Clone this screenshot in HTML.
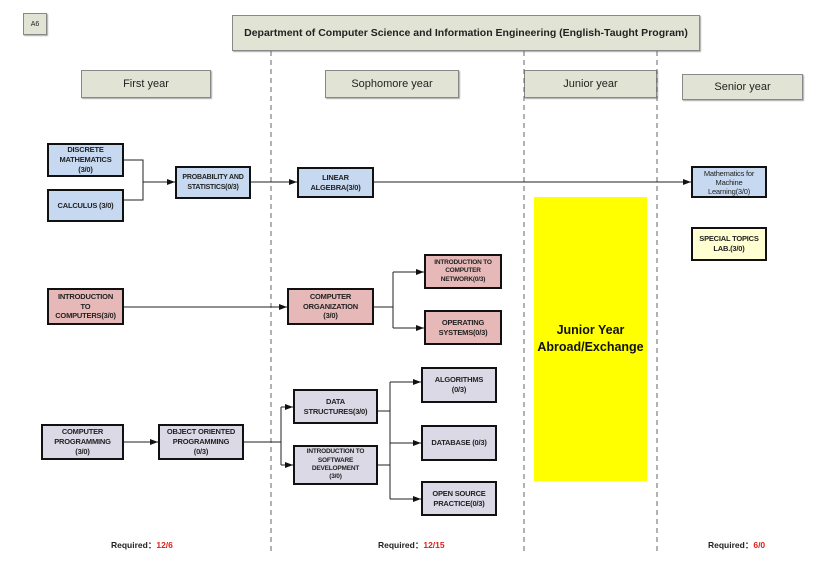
<!DOCTYPE html>
<html><head><meta charset="utf-8"><style>
body{margin:0;width:830px;height:562px;background:#fff;position:relative;overflow:hidden;font-family:"Liberation Sans",sans-serif}
.b{position:absolute;box-sizing:border-box;border:2.5px solid #111;display:flex;align-items:center;justify-content:center;text-align:center;font-size:7.5px;letter-spacing:-0.2px;font-weight:bold;line-height:1.3;color:#222;padding:0 1px}
.h{position:absolute;box-sizing:border-box;border:1px solid #888;background:#e1e4d5;display:flex;align-items:center;justify-content:center;font-size:11px;color:#222;box-shadow:1px 1px 1px #aaa}
.bl{background:#c6d9f0}.pk{background:#e6b9b8}.lv{background:#dcd9e6}
.r{position:absolute;font-size:8.5px;font-weight:bold;color:#222}.r span{color:#e0201a}
</style></head><body>
<div class="h" style="left:23px;top:13px;width:24px;height:22px;font-size:7px">A6</div>
<div class="h" style="left:232px;top:15px;width:468px;height:36px;font-weight:bold;font-size:10.5px">Department of Computer Science and Information Engineering (English-Taught Program)</div>
<div class="h" style="left:81px;top:70px;width:130px;height:28px">First year</div>
<div class="h" style="left:325px;top:70px;width:134px;height:28px">Sophomore year</div>
<div class="h" style="left:524px;top:70px;width:133px;height:28px">Junior year</div>
<div class="h" style="left:682px;top:74px;width:121px;height:26px">Senior year</div>
<svg style="position:absolute;left:0;top:0" width="830" height="562">
<defs><marker id="a" markerWidth="8" markerHeight="6" refX="8" refY="3" orient="auto" markerUnits="userSpaceOnUse"><path d="M0,0L8,3L0,6z" fill="#111"/></marker></defs>
<g stroke="#666" stroke-dasharray="5,4" stroke-width="1"><line x1="271" y1="51" x2="271" y2="552"/><line x1="524" y1="51" x2="524" y2="552"/><line x1="657" y1="51" x2="657" y2="552"/></g>
<g stroke="#222" stroke-width="1" fill="none">
<polyline points="124,160 143,160 143,200 124,200"/><line x1="143" y1="182" x2="175" y2="182" marker-end="url(#a)"/>
<line x1="251" y1="182" x2="297" y2="182" marker-end="url(#a)"/>
<line x1="374" y1="182" x2="691" y2="182" marker-end="url(#a)"/>
<line x1="124" y1="307" x2="287" y2="307" marker-end="url(#a)"/>
<line x1="374" y1="307" x2="393" y2="307"/><line x1="393" y1="272" x2="393" y2="328"/>
<line x1="393" y1="272" x2="424" y2="272" marker-end="url(#a)"/><line x1="393" y1="328" x2="424" y2="328" marker-end="url(#a)"/>
<line x1="124" y1="442" x2="158" y2="442" marker-end="url(#a)"/>
<line x1="244" y1="442" x2="281" y2="442"/><line x1="281" y1="407" x2="281" y2="465"/>
<line x1="281" y1="407" x2="293" y2="407" marker-end="url(#a)"/><line x1="281" y1="465" x2="293" y2="465" marker-end="url(#a)"/>
<line x1="378" y1="411" x2="390" y2="411"/><line x1="378" y1="465" x2="390" y2="465"/><line x1="390" y1="382" x2="390" y2="499"/>
<line x1="390" y1="382" x2="421" y2="382" marker-end="url(#a)"/><line x1="390" y1="443" x2="421" y2="443" marker-end="url(#a)"/><line x1="390" y1="499" x2="421" y2="499" marker-end="url(#a)"/>
</g></svg>
<div class="b bl" style="left:47px;top:143px;width:77px;height:34px">DISCRETE<br>MATHEMATICS<br>(3/0)</div>
<div class="b bl" style="left:47px;top:189px;width:77px;height:33px">CALCULUS (3/0)</div>
<div class="b bl" style="left:175px;top:166px;width:76px;height:33px;font-size:7px">PROBABILITY AND<br>STATISTICS(0/3)</div>
<div class="b bl" style="left:297px;top:167px;width:77px;height:31px">LINEAR<br>ALGEBRA(3/0)</div>
<div class="b bl" style="left:691px;top:166px;width:76px;height:32px;font-weight:normal;font-size:7.5px;line-height:1.2">Mathematics for<br>Machine<br>Learning(3/0)</div>
<div class="b" style="left:691px;top:227px;width:76px;height:34px;background:#ffffd2">SPECIAL TOPICS<br>LAB.(3/0)</div>
<div class="b pk" style="left:47px;top:288px;width:77px;height:37px">INTRODUCTION<br>TO<br>COMPUTERS(3/0)</div>
<div class="b pk" style="left:287px;top:288px;width:87px;height:37px">COMPUTER<br>ORGANIZATION<br>(3/0)</div>
<div class="b pk" style="left:424px;top:254px;width:78px;height:35px;font-size:6.5px">INTRODUCTION TO<br>COMPUTER<br>NETWORK(0/3)</div>
<div class="b pk" style="left:424px;top:310px;width:78px;height:35px">OPERATING<br>SYSTEMS(0/3)</div>
<div style="position:absolute;left:534px;top:197px;width:113px;height:284px;background:#ffff00;display:flex;align-items:center;justify-content:center;text-align:center;font-weight:bold;font-size:12.5px;line-height:1.35;color:#111">Junior Year<br>Abroad/Exchange</div>
<div class="b lv" style="left:41px;top:424px;width:83px;height:36px">COMPUTER<br>PROGRAMMING<br>(3/0)</div>
<div class="b lv" style="left:158px;top:424px;width:86px;height:36px">OBJECT ORIENTED<br>PROGRAMMING<br>(0/3)</div>
<div class="b lv" style="left:293px;top:389px;width:85px;height:35px">DATA<br>STRUCTURES(3/0)</div>
<div class="b lv" style="left:293px;top:445px;width:85px;height:40px;font-size:6.5px">INTRODUCTION TO<br>SOFTWARE<br>DEVELOPMENT<br>(3/0)</div>
<div class="b lv" style="left:421px;top:367px;width:76px;height:36px">ALGORITHMS<br>(0/3)</div>
<div class="b lv" style="left:421px;top:425px;width:76px;height:36px">DATABASE (0/3)</div>
<div class="b lv" style="left:421px;top:481px;width:76px;height:35px">OPEN SOURCE<br>PRACTICE(0/3)</div>
<div class="r" style="left:111px;top:539px">Required：<span>12/6</span></div>
<div class="r" style="left:378px;top:539px">Required：<span>12/15</span></div>
<div class="r" style="left:708px;top:539px">Required：<span>6/0</span></div>
</body></html>
